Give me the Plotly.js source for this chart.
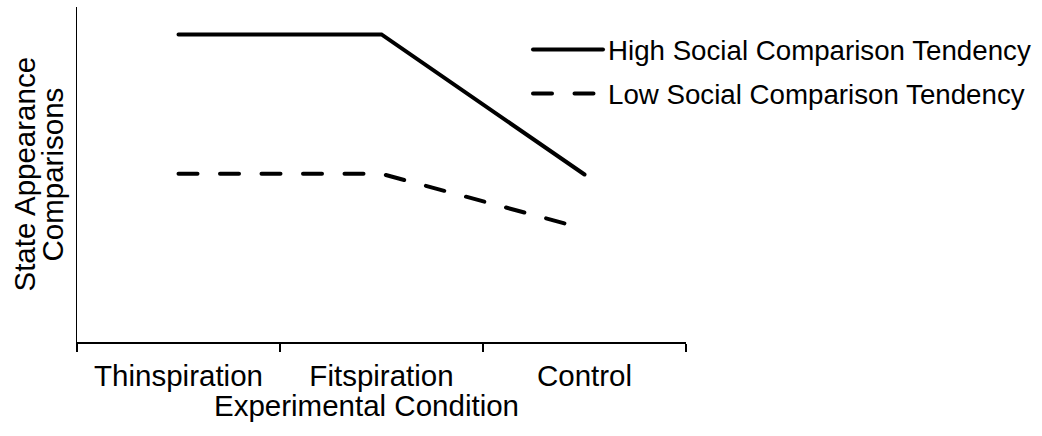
<!DOCTYPE html>
<html><head><meta charset="utf-8">
<script src="https://cdn.plot.ly/plotly-3.0.1.min.js"></script>
<style>
html,body{margin:0;padding:0;background:#fff;}
#chart{width:1042px;height:436px;}
.js-line{stroke-linecap:round;}
</style></head><body><div id="chart"></div>
<script>
const categories = ['Thinspiration', 'Fitspiration', 'Control'];
const highValues = [4.59, 4.59, 2.50];
const lowValues = [2.51, 2.51, 1.69];
const seriesNames = ['High Social Comparison Tendency', 'Low Social Comparison Tendency'];
const xTitle = 'Experimental Condition';
const yTitleLines = ['State Appearance', 'Comparisons'];
const FONT = 'Liberation Sans, Arial, sans-serif';

const traces = [
  {x: categories, y: highValues, name: seriesNames[0], type: 'scatter', mode: 'lines',
   line: {color: '#000', width: 4}, legendgroup: 'a'},
  {x: categories, y: lowValues, name: seriesNames[1], type: 'scatter', mode: 'lines',
   line: {color: '#000', width: 4, dash: '19px,22.5px'}, legendgroup: 'b'}
];

const layout = {
  width: 1042, height: 436,
  margin: {l: 77, r: 356, t: 7, b: 94, pad: 0, autoexpand: false},
  paper_bgcolor: '#fff', plot_bgcolor: '#fff',
  font: {family: FONT, size: 29.5, color: '#000'},
  showlegend: true,
  legend: {xref: 'container', yref: 'container', x: 528/1042, y: 1 - 25/436,
           xanchor: 'left', yanchor: 'top', bgcolor: 'rgba(0,0,0,0)',
           font: {family: FONT, size: 27.7, color: '#000'},
           itemwidth: 70, tracegroupgap: 5},
  xaxis: {type: 'category', range: [-0.5, 2.5], showline: true, linecolor: '#000', linewidth: 1.5,
          ticks: 'outside', ticklen: 8, tickwidth: 1.5, tickcolor: '#000', tickson: 'boundaries',
          tickangle: 0, automargin: false, ticklabelstandoff: 7,
          showgrid: false, zeroline: false, tickfont: {family: FONT, size: 29.5, color: '#000'}},
  yaxis: {range: [0, 5], showline: true, linecolor: '#000', linewidth: 1.5, automargin: false,
          showticklabels: false, ticks: '', showgrid: false, zeroline: false},
  annotations: [
    {text: xTitle, xref: 'paper', yref: 'paper', x: (366.5-77)/609, y: 0, xanchor: 'center', yanchor: 'middle',
     yshift: -63, showarrow: false, font: {family: FONT, size: 29.5, color: '#000'}},
    {text: yTitleLines[0], xref: 'paper', yref: 'paper', x: 0, y: 0.5, xanchor: 'center', yanchor: 'middle',
     xshift: -53, textangle: -90, showarrow: false, font: {family: FONT, size: 29.5, color: '#000'}},
    {text: yTitleLines[1], xref: 'paper', yref: 'paper', x: 0, y: 0.5, xanchor: 'center', yanchor: 'middle',
     xshift: -25, textangle: -90, showarrow: false, font: {family: FONT, size: 29.5, color: '#000'}}
  ]
};

Plotly.newPlot('chart', traces, layout, {displayModeBar: false, staticPlot: true});
</script></body></html>
